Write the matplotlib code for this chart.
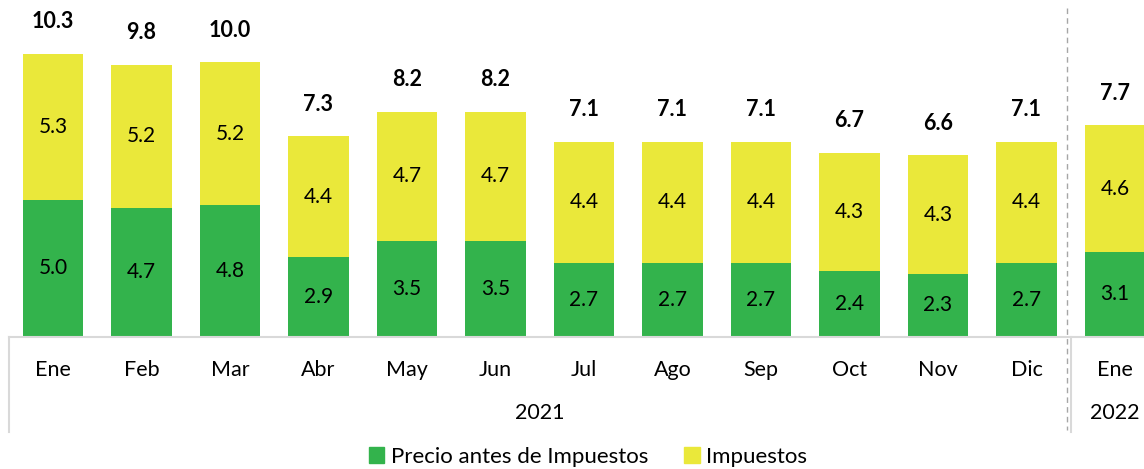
import matplotlib.pyplot as plt
import matplotlib.transforms as mtransforms
from matplotlib.lines import Line2D
from matplotlib.patches import Patch

plt.rcParams['font.family'] = ['Lato', 'DejaVu Sans']

meses = ['Ene', 'Feb', 'Mar', 'Abr', 'May', 'Jun', 'Jul', 'Ago', 'Sep', 'Oct', 'Nov', 'Dic', 'Ene']
precio = [5.0, 4.7, 4.8, 2.9, 3.5, 3.5, 2.7, 2.7, 2.7, 2.4, 2.3, 2.7, 3.1]
impuestos = [5.3, 5.2, 5.2, 4.4, 4.7, 4.7, 4.4, 4.4, 4.4, 4.3, 4.3, 4.4, 4.6]
totales = [10.3, 9.8, 10.0, 7.3, 8.2, 8.2, 7.1, 7.1, 7.1, 6.7, 6.6, 7.1, 7.7]
anios = ['2021', '2022']

VERDE = '#33B34C'
AMARILLO = '#EAE83A'
GRIS = '#D9D9D9'

W, H = 1144, 469
fig = plt.figure(figsize=(W / 100, H / 100), dpi=100)
ax = fig.add_axes([9 / W, (H - 337) / H, (W - 9) / W, 337 / H])

x = range(len(meses))
ax.bar(x, precio, width=0.68, color=VERDE)
ax.bar(x, impuestos, width=0.68, bottom=precio, color=AMARILLO)

for i in x:
    ax.text(i, precio[i] / 2, f'{precio[i]:.1f}', ha='center', va='center', fontsize=15)
    ax.text(i, precio[i] + impuestos[i] / 2, f'{impuestos[i]:.1f}', ha='center', va='center', fontsize=15)
    ax.annotate(f'{totales[i]:.1f}', (i, precio[i] + impuestos[i]), xytext=(0, 23),
                textcoords='offset points', ha='center', va='center', fontsize=15.5, fontweight='bold')

ax.set_xlim((9 - 53) / 88.5, (W - 53) / 88.5)
ax.set_ylim(0, 337 / 27.5)
for s in ['top', 'right', 'left']:
    ax.spines[s].set_visible(False)
ax.spines['bottom'].set_color(GRIS)
ax.spines['bottom'].set_linewidth(1.5)
ax.set_xticks([])
ax.set_yticks([])

# etiquetas de mes y año bajo el eje
trans = mtransforms.blended_transform_factory(ax.transData, fig.transFigure)
for i, m in enumerate(meses):
    ax.text(i, (H - 370) / H, m, transform=trans, ha='center', va='center', fontsize=15.5, clip_on=False)
ax.text(5.5, (H - 413) / H, anios[0], transform=trans, ha='center', va='center', fontsize=15.5)
ax.text(12.0, (H - 413) / H, anios[1], transform=trans, ha='center', va='center', fontsize=15.5)

# separadores
fig.add_artist(Line2D([9 / W, 9 / W], [(H - 337) / H, (H - 432) / H], color=GRIS, lw=1.5))
sep = 11.5
fig.add_artist(Line2D([sep, sep], [(H - 337) / H, (H - 432) / H], transform=trans, color=GRIS, lw=1.5))
fig.add_artist(Line2D([sep - 0.04, sep - 0.04], [(H - 8) / H, (H - 430) / H], transform=trans,
                      color='#A6A6A6', lw=1, ls=(0, (4, 3))))

handles = [Patch(color=VERDE, label='Precio antes de Impuestos'),
           Patch(color=AMARILLO, label='Impuestos')]
fig.legend(handles=handles, loc='center', bbox_to_anchor=(588 / W, (H - 457) / H), ncol=2,
           frameon=False, fontsize=16, handlelength=0.7, handleheight=0.7, handletextpad=0.3,
           columnspacing=1.6)

fig.savefig('out.png', dpi=100)
